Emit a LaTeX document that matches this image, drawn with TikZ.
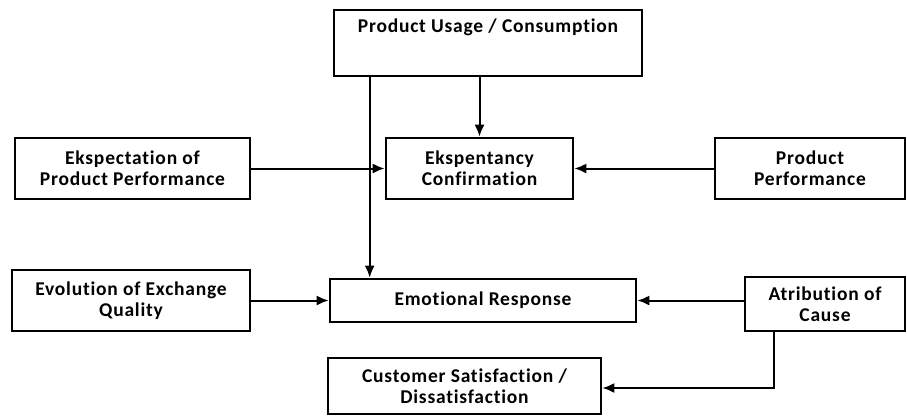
\documentclass[tikz,border=0pt]{standalone}
\usepackage{fontspec}
\setmainfont{Carlito}[LetterSpace=4.0,Ligatures={NoCommon}]
\usetikzlibrary{arrows.meta,calc}
\begin{document}
\begin{tikzpicture}[x=1pt,y=-1pt,
  txt/.style={font=\fontsize{19.5}{21}\selectfont\bfseries},
  box/.style={draw,line width=2.6pt,rectangle,inner sep=0pt,align=center,txt},
  arr/.style={line width=2pt,-{Latex[length=12pt,width=10pt]}}]
\useasboundingbox (0,0) rectangle (907,416);
% nodes
\node[box,minimum width=308,minimum height=66] (pu) at (488,43) {};
\node[txt] (putext) at (488,27) {Product Usage / Consumption};
\node[box,minimum width=235,minimum height=61] (ep) at (132.5,168.5) {Ekspectation of\\Product Performance};
\node[box,minimum width=187,minimum height=61] (ec) at (479.5,168.5) {Ekspentancy\\Confirmation};
\node[box,minimum width=190,minimum height=61] (pp) at (810,168.5) {Product\\Performance};
\node[box,minimum width=238,minimum height=61] (eq) at (131,300.5) {Evolution of Exchange\\Quality};
\node[box,minimum width=306,minimum height=43] (er) at (483,300.5) {Emotional Response};
\node[box,minimum width=160,minimum height=54] (ac) at (825,304) {Atribution of\\Cause};
\node[box,minimum width=273,minimum height=56] (cs) at (464.5,386) {Customer Satisfaction /\\Dissatisfaction};
% connectors
\coordinate (pul) at ($(pu.south west)+(37,0)$);
\draw[arr] (pul) -- (pul |- er.north);
\draw[arr] (pu.south -| ec.north) -- (ec.north);
\draw[arr] (ep.east) -- (ec.west);
\draw[arr] (pp.west) -- (ec.east);
\draw[arr] (eq.east |- er.west) -- (er.west);
\draw[arr] (ac.west |- er.east) -- (er.east);
\coordinate (acl) at ($(ac.south west)+(30,0)$);
\draw[arr] (acl) |- ($(cs.east)+(0,2)$);
\end{tikzpicture}
\end{document}
